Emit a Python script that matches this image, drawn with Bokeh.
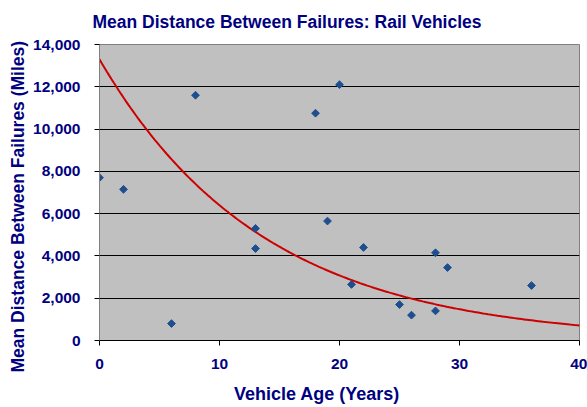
import numpy as np
from bokeh.plotting import figure
from bokeh.models import Range1d, FixedTicker, NumeralTickFormatter, Title
from bokeh.embed import file_html
from bokeh.resources import INLINE

# Data
vehicle_age = [0, 2, 6, 8, 13, 13, 18, 19, 20, 21, 22, 25, 26, 28, 28, 29, 36]
mdbf_miles = [7700, 7150, 800, 11600, 5300, 4350, 10750, 5650, 12100, 2650,
              4400, 1700, 1200, 4150, 1400, 3450, 2600]

# Exponential trendline y = a * exp(-b x)
trend_a = 13300
trend_b = 0.0732

x_ticks = [0, 10, 20, 30, 40]
y_ticks = [0, 2000, 4000, 6000, 8000, 10000, 12000, 14000]

title_text = "Mean Distance Between Failures: Rail Vehicles"
x_label = "Vehicle Age (Years)"
y_label = "Mean Distance Between Failures (Miles)"

NAVY = "#000080"
FONT = "Liberation Sans"

p = figure(width=587, height=407, output_backend="svg", toolbar_location=None,
           x_range=Range1d(0, 40), y_range=Range1d(0, 14000),
           min_border_left=99, min_border_right=8, min_border_top=44,
           min_border_bottom=67, background_fill_color="#C0C0C0",
           border_fill_color="white", outline_line_color="#808080")

# Trendline
tx = np.linspace(0, 40, 200)
ty = trend_a * np.exp(-trend_b * tx)
p.line(tx, ty, line_color="#CC0000", line_width=2)

# Points
p.scatter(vehicle_age, mdbf_miles, marker="square", angle=np.pi / 4, size=5.5,
          fill_color="#1F4E8F", line_color="#1F4E8F")

# Grid
p.xgrid.visible = False
p.ygrid.ticker = FixedTicker(ticks=y_ticks)
p.ygrid.grid_line_color = "black"
p.ygrid.grid_line_width = 1

# Axes
for ax in (p.xaxis[0], p.yaxis[0]):
    ax.major_label_text_font = FONT
    ax.major_label_text_font_style = "bold"
    ax.major_label_text_font_size = "15.5px"
    ax.major_label_text_color = NAVY
    ax.major_tick_line_color = "black"
    ax.major_tick_in = 0
    ax.major_tick_out = 5
    ax.minor_tick_line_color = None

p.xaxis[0].ticker = FixedTicker(ticks=x_ticks)
p.yaxis[0].ticker = FixedTicker(ticks=y_ticks)
p.yaxis[0].formatter = NumeralTickFormatter(format="0,0")
p.xaxis[0].axis_line_color = "black"
p.yaxis[0].axis_line_color = "#808080"
p.xaxis[0].major_label_standoff = 13
p.yaxis[0].major_label_standoff = 14

# X axis label (trailing no-break spaces shift the centred label left)
xa = p.xaxis[0]
xa.axis_label = x_label + "\u00a0" * 9
xa.axis_label_standoff = 12
xa.axis_label_text_font = FONT
xa.axis_label_text_font_style = "bold"
xa.axis_label_text_font_size = "18px"
xa.axis_label_text_color = NAVY

# Titles
p.title = Title(text=title_text, align="left", offset=-7, vertical_align="top",
                standoff=22, text_font=FONT, text_font_style="bold",
                text_font_size="17.5px", text_color=NAVY)

yt = Title(text=y_label, align="left", offset=-32, standoff=6, text_font=FONT,
           text_font_style="bold", text_font_size="17.5px", text_color=NAVY)
p.add_layout(yt, "left")

open("out.html", "w").write(file_html(p, INLINE))
